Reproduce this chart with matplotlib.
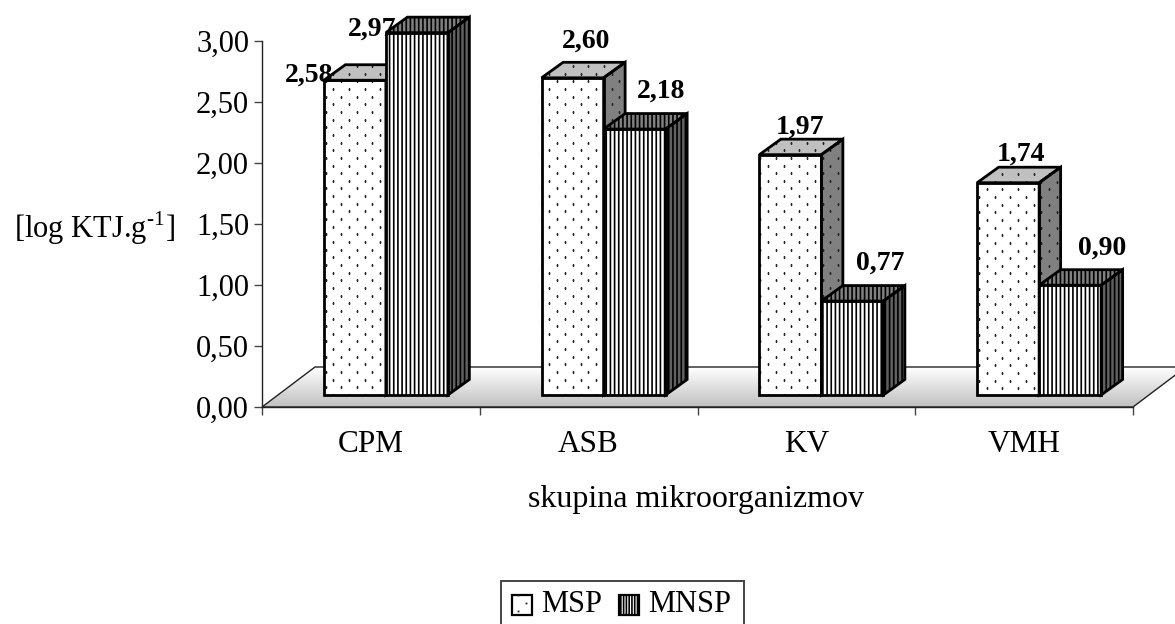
import numpy as np
import matplotlib
matplotlib.use('Agg')
import matplotlib.pyplot as plt
from matplotlib.patches import Polygon, Rectangle
from matplotlib.transforms import IdentityTransform

plt.rcParams['font.family'] = ['Liberation Serif', 'DejaVu Serif']
plt.rcParams['mathtext.fontset'] = 'custom'
plt.rcParams['mathtext.rm'] = 'Liberation Serif'
plt.rcParams['hatch.linewidth'] = 1.2

categories = ['CPM', 'ASB', 'KV', 'VMH']
series_names = ['MSP', 'MNSP']
msp = [2.58, 2.60, 1.97, 1.74]
mnsp = [2.97, 2.18, 0.77, 0.90]
y_ticks = [0, 0.5, 1, 1.5, 2, 2.5, 3]

W, H = 1175, 624
fig = plt.figure(figsize=(W / 100, H / 100), dpi=100)
# axes box is the front edge of the floor and the value axis
ax = fig.add_axes([262 / W, 1 - 407 / H, 871 / W, 366 / H])
ax.set_xlim(0, 4)
ax.set_ylim(0, 3)
ax.patch.set_visible(False)

px_x = 4 / 871
px_y = 3 / 366
bar_w = 62 * px_x
depth_x, depth_y = 21.5 * px_x, 15.5 * px_y
floor_x, floor_y = 53 * px_x, 40 * px_y
base_x, base_y = 15 * px_x, 12 * px_y

# where the dot texture starts on each MSP bar, in pixels
dot_origin = [(333.3, 89), (549.3, 89), (768, 89), (986.7, 189.3)]


def dots_on(patch, origin, z):
    # staggered dot texture, laid out in pixels
    xs = np.arange(-80, 80) * 15.6 + origin[0]
    ys = np.arange(-45, 45) * 15.3 + origin[1]
    gx, gy = np.meshgrid(xs, ys)
    px = np.concatenate([gx.ravel(), gx.ravel() + 7.8])
    py = np.concatenate([gy.ravel(), gy.ravel() + 7.65])
    ln, = ax.plot(px, H - py, ls='', marker='s', ms=1.3, mew=0, color='#222222',
                  transform=IdentityTransform(), zorder=z)
    ln.set_clip_box(fig.bbox)
    ln.set_clip_path(patch)


def bar3d(x, v, front, top, side, hatch, z, origin=None):
    b = base_y
    pts_front = [(x, b), (x + bar_w, b), (x + bar_w, b + v), (x, b + v)]
    pts_top = [(x, b + v), (x + bar_w, b + v), (x + bar_w + depth_x, b + v + depth_y), (x + depth_x, b + v + depth_y)]
    pts_side = [(x + bar_w, b), (x + bar_w + depth_x, b + depth_y), (x + bar_w + depth_x, b + v + depth_y), (x + bar_w, b + v)]
    for pts, col in [(pts_front, front), (pts_top, top), (pts_side, side)]:
        fill = Polygon(pts, closed=True, facecolor=col, edgecolor='black', lw=0,
                       hatch=hatch, clip_on=False, zorder=z)
        ax.add_patch(fill)
        if origin is not None:
            dots_on(fill, origin, z)
        ax.add_patch(Polygon(pts, closed=True, fill=False, edgecolor='black', lw=2.0,
                             clip_on=False, zorder=z + 0.1, joinstyle='miter'))


# floor with gradient
floor_pts = [(0, 0), (floor_x, floor_y), (4 + floor_x, floor_y), (4, 0)]
grad = np.linspace(0.75, 1.0, 64).reshape(-1, 1)
im = ax.imshow(grad, cmap='gray', vmin=0, vmax=1, origin='lower', aspect='auto',
               extent=(0, 4 + floor_x, 0, floor_y), zorder=1)
floor_clip = Polygon(floor_pts, closed=True, transform=ax.transData, fill=False, lw=0)
ax.add_patch(floor_clip)
im.set_clip_box(fig.bbox)
im.set_clip_path(floor_clip)
ax.set_xlim(0, 4)
ax.set_ylim(0, 3)
ax.add_patch(Polygon(floor_pts, closed=True, fill=False, edgecolor='#222222', lw=1.0,
                     clip_on=False, zorder=1.5))

z = 2
for i in range(len(categories)):
    x0 = i + 0.5 + base_x - bar_w
    bar3d(x0, msp[i], 'white', '#c0c0c0', '#808080', None, z, dot_origin[i])
    z += 1
    bar3d(x0 + bar_w, mnsp[i], 'white', '#808080', '#606060', '||||', z)
    z += 1

# value labels, offsets in pixels from the top centre of the front face
msp_off = [(-46, 5), (13, 37), (10, 27), (13, 29)]
mnsp_off = [(-45, 3), (26, 38), (28, 38), (32, 37)]
for i in range(len(categories)):
    x0 = i + 0.5 + base_x - bar_w
    for vals, off, xc in [(msp, msp_off, x0 + bar_w / 2), (mnsp, mnsp_off, x0 + bar_w * 1.5)]:
        ax.annotate(f'{vals[i]:.2f}'.replace('.', ','), (xc, vals[i] + base_y),
                    xytext=(off[i][0] * 0.72, off[i][1] * 0.72), textcoords='offset points',
                    ha='center', va='center', fontsize=20, fontweight='bold',
                    annotation_clip=False, zorder=50)

for s in ['top', 'right']:
    ax.spines[s].set_visible(False)
for s in ['left', 'bottom']:
    ax.spines[s].set_linewidth(1.0)
    ax.spines[s].set_color('#222222')
ax.set_yticks(y_ticks)
ax.set_yticklabels([f'{t:.2f}'.replace('.', ',') for t in y_ticks], fontsize=22)
ax.tick_params(axis='y', length=5.8, width=1, pad=3.5, color='#444444')
ax.set_xticks(range(5))
ax.set_xticklabels([''] * 5)
ax.tick_params(axis='x', length=6, width=1, color='#444444')
for i, c in enumerate(categories):
    ax.annotate(c, (i + 0.5, 0), xytext=(0, -38 * 0.72), textcoords='offset points',
                ha='center', va='center', fontsize=22.5, annotation_clip=False)

fig.text(94 / W, 1 - 228 / H, r'[log KTJ.g$^{\text{-1}}$]', ha='center', va='center', fontsize=22)
fig.text(696.5 / W, 1 - 499 / H, 'skupina mikroorganizmov', ha='center', va='center', fontsize=23)

# legend box, runs off the bottom edge of the picture
ax.add_patch(Rectangle((501 / W, 1 - 626 / H), 243 / W, 45 / H, transform=fig.transFigure,
                       facecolor='white', edgecolor='#444444', lw=1.4, clip_on=False, zorder=60))
k1 = Rectangle((512 / W, 1 - 615 / H), 20 / W, 20 / H, transform=fig.transFigure,
               facecolor='white', edgecolor='black', lw=1.6, clip_on=False, zorder=61)
ax.add_patch(k1)
dots_on(k1, (526, 603), 62)
k2 = Rectangle((619 / W, 1 - 615 / H), 20 / W, 20 / H, transform=fig.transFigure,
               facecolor='white', edgecolor='black', lw=1.6, hatch='||||||', clip_on=False, zorder=61)
ax.add_patch(k2)
ax.text(541 / W, 1 - 604 / H, series_names[0], ha='left', va='center', fontsize=22,
        transform=fig.transFigure, clip_on=False, zorder=62)
ax.text(648 / W, 1 - 604 / H, series_names[1], ha='left', va='center', fontsize=22,
        transform=fig.transFigure, clip_on=False, zorder=62)

fig.savefig('out.png', dpi=100)
